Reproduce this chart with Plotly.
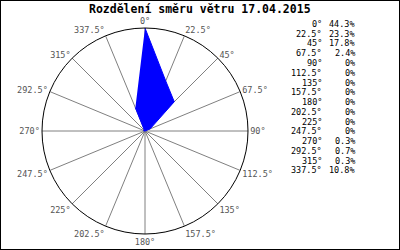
import plotly.graph_objects as go

directions = [0, 22.5, 45, 67.5, 90, 112.5, 135, 157.5, 180, 202.5, 225, 247.5, 270, 292.5, 315, 337.5]
dir_labels = ["0°", "22.5°", "45°", "67.5°", "90°", "112.5°", "135°", "157.5°", "180°",
              "202.5°", "225°", "247.5°", "270°", "292.5°", "315°", "337.5°"]
percent = [44.3, 23.3, 17.8, 2.4, 0, 0, 0, 0, 0, 0, 0, 0, 0.3, 0.7, 0.3, 10.8]
pct_labels = ["44.3%", "23.3%", "17.8%", "2.4%", "0%", "0%", "0%", "0%", "0%", "0%",
              "0%", "0%", "0.3%", "0.7%", "0.3%", "10.8%"]
title_text = "Rozdělení směru větru 17.04.2015"

MONO = "DejaVu Sans Mono, Liberation Mono, monospace"

fig = go.Figure()
fig.add_trace(go.Scatterpolar(
    r=percent, theta=directions, mode="lines", fill="toself",
    fillcolor="#0000FF", line=dict(color="#0000FF", width=1),
    hoverinfo="skip", showlegend=False,
))

fig.update_layout(
    width=400, height=250,
    margin=dict(l=0, r=0, t=0, b=0),
    paper_bgcolor="white", plot_bgcolor="white",
    showlegend=False,
    polar=dict(
        domain=dict(x=[0.105, 0.62], y=[0.064, 0.888]),
        bgcolor="white",
        radialaxis=dict(range=[0, max(percent)], visible=False, showgrid=False),
        angularaxis=dict(
            rotation=90, direction="clockwise",
            tickmode="array", tickvals=directions, ticktext=dir_labels,
            showgrid=True, gridcolor="#808080", gridwidth=1,
            showline=True, linecolor="black", linewidth=1,
            ticks="", tickfont=dict(family=MONO, size=8.5, color="#555555"),
        ),
    ),
)

fig.add_annotation(text="<b>" + title_text + "</b>", xref="paper", yref="paper",
                   x=0.5, y=1 - 8.5 / 250, xanchor="center", yanchor="middle",
                   showarrow=False, font=dict(family=MONO, size=11.5, color="black"))

y0 = 24.0
dy = 9.75
for i, (lab, pct) in enumerate(zip(dir_labels, pct_labels)):
    yy = 1 - (y0 + i * dy) / 250
    fig.add_annotation(text=lab, xref="paper", yref="paper", x=324 / 400, y=yy,
                       xanchor="right", yanchor="middle", showarrow=False,
                       font=dict(family=MONO, size=8.5, color="black"))
    fig.add_annotation(text=pct, xref="paper", yref="paper", x=357 / 400, y=yy,
                       xanchor="right", yanchor="middle", showarrow=False,
                       font=dict(family=MONO, size=8.5, color="black"))

fig.add_shape(type="rect", xref="paper", yref="paper", x0=0, y0=0, x1=1, y1=1,
              line=dict(color="black", width=2))

fig.write_html("out.html")
